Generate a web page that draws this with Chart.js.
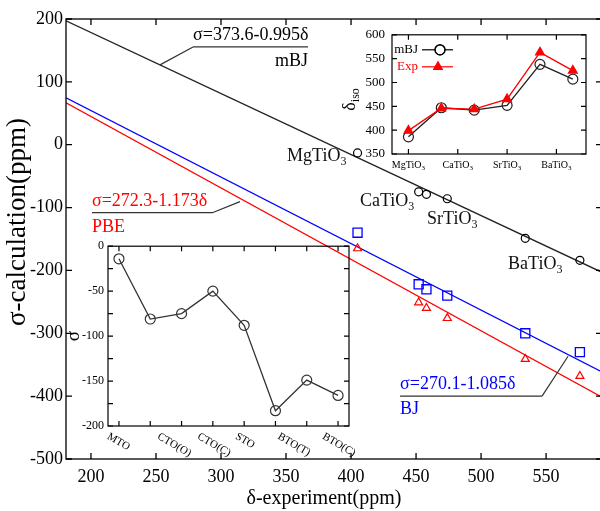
<!DOCTYPE html>
<html>
<head>
<meta charset="utf-8">
<script src="https://cdn.jsdelivr.net/npm/chart.js@4.4.0/dist/chart.umd.min.js"></script>
<style>
  html, body { margin: 0; padding: 0; background: #fff; overflow: hidden; }
  #wrap { position: relative; width: 600px; height: 511px; overflow: hidden; }
  canvas { position: absolute; }
  #main { left: 0; top: 0; }
  #inset1 { left: 340px; top: 20px; }
  #inset2 { left: 60px; top: 235px; }
</style>
</head>
<body>
<div id="wrap">
  <canvas id="main" width="604" height="511"></canvas>
  <canvas id="inset1" width="250" height="160"></canvas>
  <canvas id="inset2" width="295" height="225"></canvas>
</div>
<script>
// main plot: shielding vs experimental shift
const mainX = [405, 452, 458, 474, 534, 576];
const mbjSigma = [-13, -75, -79, -86, -149, -184];
const bjSigma = [-140, -222, -230, -240, -300, -330];
const pbeSigma = [-165, -251, -260, -276, -341, -368];
const fitX = [180.8, 593];
const mbjFit = [197, -203];
const bjFit = [74.6, -361.6];
const pbeFit = [66.7, -401.7];
const mainXTicks = [200, 250, 300, 350, 400, 450, 500, 550];
const mainYTicks = [-500, -400, -300, -200, -100, 0, 100, 200];
const compoundNames = ['MgTiO_3', 'CaTiO_3', 'SrTiO_3', 'BaTiO_3'];

// top-right inset: delta iso
const isoIndex = [0, 1, 2, 3, 4, 5];
const isoMbj = [386, 447, 442, 452, 538, 507];
const isoExp = [399, 446, 444, 465, 563, 525];
const isoLabels = ['MgTiO_3', 'CaTiO_3', 'SrTiO_3', 'BaTiO_3'];
const isoLabelPos = [0, 1.5, 3, 4.5];
const isoYTicks = [350, 400, 450, 500, 550, 600];

// bottom-left inset: sigma differences
const diffIndex = [0, 1, 2, 3, 4, 5, 6, 7];
const diffSigma = [-14, -81, -75, -50, -88, -183, -149, -166];
const diffLabels = ['MTO', 'CTO(O)', 'CTO(C)', 'STO', 'BTO(T)', 'BTO(C)'];
const diffLabelPos = [-0.26, 1.34, 2.62, 3.83, 5.18, 6.61];
const diffYTicks = [-200, -150, -100, -50, 0];
const diffYMinor = [-175, -125, -75, -25];

const SERIF = '"Liberation Serif", "DejaVu Serif", serif';

function parseSub(s) {
    const i = s.indexOf('_');
    return i < 0 ? [[s, false]] : [[s.slice(0, i), false], [s.slice(i + 1), true]];
}

// draws text with a trailing subscript
function drawRich(ctx, s, x, y, size, align) {
    const parts = parseSub(s);
    const subSize = Math.round(size * 0.68);
    const widths = parts.map(([t, sub]) => {
        ctx.font = (sub ? subSize : size) + 'px ' + SERIF;
        return ctx.measureText(t).width;
    });
    const total = widths.reduce((a, b) => a + b, 0);
    let cx = align === 'right' ? x - total : align === 'center' ? x - total / 2 : x;
    ctx.textAlign = 'left';
    ctx.textBaseline = 'middle';
    parts.forEach(([t, sub], i) => {
        ctx.font = (sub ? subSize : size) + 'px ' + SERIF;
        ctx.fillText(t, cx, sub ? y + size * 0.3 : y);
        cx += widths[i];
    });
}

// box round the plot with inward ticks on all four sides
const framePlugin = {
    id: 'frame',
    afterDatasetsDraw(chart, args, opts) {
        const { ctx, chartArea: a, scales: { x, y } } = chart;
        const L = opts.tickLen;
        ctx.save();
        ctx.strokeStyle = '#000';
        ctx.lineWidth = opts.lineWidth;
        ctx.strokeRect(a.left, a.top, a.right - a.left, a.bottom - a.top);
        ctx.beginPath();
        opts.xTicks.forEach(v => {
            const px = x.getPixelForValue(v);
            ctx.moveTo(px, a.bottom); ctx.lineTo(px, a.bottom - L);
            ctx.moveTo(px, a.top); ctx.lineTo(px, a.top + L);
        });
        opts.yTicks.concat(opts.yMinor || []).forEach(v => {
            const py = y.getPixelForValue(v);
            ctx.moveTo(a.left, py); ctx.lineTo(a.left + L, py);
            ctx.moveTo(a.right, py); ctx.lineTo(a.right - L, py);
        });
        ctx.stroke();
        ctx.restore();
    }
};

// fit equations with their leader lines
const eqNotes = [
    { text: 'σ=373.6-0.995δ', name: 'mBJ', color: '#000', x: 278.5, y: 174.6, lineY: 155.6, lineEnd: 366.9, leadFrom: 'start', lead: [253.1, 127.0], nameY: 133.3, nameAlign: 'right' },
    { text: 'σ=272.3-1.173δ', name: 'PBE', color: '#ff0000', x: 200.8, y: -90.5, lineY: -107.9, lineEnd: 293.8, leadFrom: 'end', lead: [314.6, -90.5], nameY: -131.7, nameAlign: 'left' },
    { text: 'σ=270.1-1.085δ', name: 'BJ', color: '#0000ff', x: 437.7, y: -381, lineY: -400, lineEnd: 546.9, leadFrom: 'end', lead: [566.9, -336.5], nameY: -420.6, nameAlign: 'left' }
];
const compoundAt = [[350.8, -19], [406.9, -90.5], [458.5, -119], [520.8, -190.5]];

const mainNotes = {
    id: 'mainNotes',
    afterDraw(chart) {
        const { ctx, scales: { x, y } } = chart;
        ctx.save();
        eqNotes.forEach(n => {
            const x0 = x.getPixelForValue(n.x), x1 = x.getPixelForValue(n.lineEnd);
            const ly = y.getPixelForValue(n.lineY);
            ctx.strokeStyle = '#333';
            ctx.lineWidth = 1.2;
            ctx.beginPath();
            ctx.moveTo(x0, ly); ctx.lineTo(x1, ly);
            ctx.moveTo(n.leadFrom === 'start' ? x0 : x1, ly);
            ctx.lineTo(x.getPixelForValue(n.lead[0]), y.getPixelForValue(n.lead[1]));
            ctx.stroke();
            ctx.fillStyle = n.color;
            drawRich(ctx, n.text, x0, y.getPixelForValue(n.y), 18, 'left');
            drawRich(ctx, n.name, n.nameAlign === 'right' ? x1 : x0, y.getPixelForValue(n.nameY), 18, n.nameAlign);
        });
        ctx.fillStyle = '#111';
        compoundNames.forEach((t, i) => {
            drawRich(ctx, t, x.getPixelForValue(compoundAt[i][0]), y.getPixelForValue(compoundAt[i][1]), 18, 'left');
        });
        // axis titles
        ctx.fillStyle = '#000';
        ctx.translate(18, 222);
        ctx.rotate(-Math.PI / 2);
        drawRich(ctx, 'σ-calculation(ppm)', 0, 0, 27, 'center');
        ctx.setTransform(1, 0, 0, 1, 0, 0);
        drawRich(ctx, 'δ-experiment(ppm)', 324, 499, 20, 'center');
        ctx.restore();
    }
};

const pts = (xs, ys) => xs.map((v, i) => ({ x: v, y: ys[i] }));

new Chart(document.getElementById('main'), {
    type: 'scatter',
    data: {
        datasets: [
            { label: 'mBJ', data: pts(mainX, mbjSigma), pointStyle: 'circle', pointRadius: 4, borderColor: '#000', backgroundColor: 'rgba(0,0,0,0)', pointBorderWidth: 1.2, order: 0 },
            { label: 'BJ', data: pts(mainX, bjSigma), pointStyle: 'rect', pointRadius: 6.4, borderColor: '#0000ff', backgroundColor: 'rgba(0,0,0,0)', pointBorderWidth: 1.3, order: 0 },
            { label: 'PBE', data: pts(mainX, pbeSigma), pointStyle: 'triangle', pointRadius: 4.6, borderColor: '#ff0000', backgroundColor: 'rgba(0,0,0,0)', pointBorderWidth: 1.2, order: 0 },
            { label: 'mBJ fit', data: pts(fitX, mbjFit), showLine: true, pointRadius: 0, borderColor: '#222', borderWidth: 1.3, order: 1 },
            { label: 'BJ fit', data: pts(fitX, bjFit), showLine: true, pointRadius: 0, borderColor: '#0000ff', borderWidth: 1.3, order: 1 },
            { label: 'PBE fit', data: pts(fitX, pbeFit), showLine: true, pointRadius: 0, borderColor: '#ff0000', borderWidth: 1.3, order: 1 }
        ]
    },
    options: {
        responsive: false,
        animation: false,
        layout: { autoPadding: false, padding: { top: 19, right: 2, left: 0, bottom: 0 } },
        plugins: {
            legend: { display: false },
            tooltip: { enabled: false },
            frame: { xTicks: mainXTicks, yTicks: mainYTicks, tickLen: 6, lineWidth: 1.3 }
        },
        scales: {
            x: {
                type: 'linear', min: 180.8, max: 593,
                grid: { display: false, drawTicks: false }, border: { display: false },
                afterBuildTicks: s => { s.ticks = mainXTicks.map(v => ({ value: v })); },
                afterFit: s => { s.height = 52; },
                ticks: { font: { family: SERIF, size: 18 }, color: '#000', padding: 7 }
            },
            y: {
                type: 'linear', min: -500, max: 200,
                grid: { display: false, drawTicks: false }, border: { display: false },
                afterBuildTicks: s => { s.ticks = mainYTicks.map(v => ({ value: v })); },
                afterFit: s => { s.width = 66; },
                ticks: { font: { family: SERIF, size: 18 }, color: '#000', padding: 3 }
            }
        }
    },
    plugins: [framePlugin, mainNotes]
});

// top-right inset
const isoDecor = {
    id: 'isoDecor',
    afterDraw(chart) {
        const { ctx, chartArea: a, scales: { x } } = chart;
        ctx.save();
        ctx.fillStyle = '#000';
        isoLabels.forEach((t, i) => drawRich(ctx, t, x.getPixelForValue(isoLabelPos[i]), a.bottom + 11, 10, 'center'));
        // legend
        const lx = a.left + 26;
        drawRich(ctx, 'mBJ', lx, a.top + 15, 13, 'right');
        ctx.strokeStyle = '#000'; ctx.lineWidth = 1.2;
        ctx.beginPath(); ctx.moveTo(a.left + 30, a.top + 15); ctx.lineTo(a.left + 61, a.top + 15); ctx.stroke();
        ctx.fillStyle = '#fff';
        Chart.helpers.drawPoint(ctx, { pointStyle: 'circle', radius: 5, borderWidth: 1.2 }, a.left + 48, a.top + 15);
        ctx.stroke();
        ctx.fillStyle = '#ff0000';
        drawRich(ctx, 'Exp', lx, a.top + 32, 13, 'right');
        ctx.strokeStyle = '#ff0000';
        ctx.beginPath(); ctx.moveTo(a.left + 30, a.top + 32); ctx.lineTo(a.left + 61, a.top + 32); ctx.stroke();
        Chart.helpers.drawPoint(ctx, { pointStyle: 'triangle', radius: 5, borderWidth: 1 }, a.left + 46, a.top + 32);
        // y title
        ctx.fillStyle = '#000';
        ctx.translate(10, (a.top + a.bottom) / 2 + 5);
        ctx.rotate(-Math.PI / 2);
        drawRich(ctx, 'δ_iso', 0, 0, 18, 'center');
        ctx.restore();
    }
};

new Chart(document.getElementById('inset1'), {
    type: 'line',
    data: {
        datasets: [
            { label: 'Exp', data: pts(isoIndex, isoExp), borderColor: '#ff0000', backgroundColor: '#ff0000', borderWidth: 1.3, pointStyle: 'triangle', pointRadius: 5, order: 0 },
            { label: 'mBJ', data: pts(isoIndex, isoMbj), borderColor: '#222', backgroundColor: 'rgba(0,0,0,0)', borderWidth: 1.3, pointStyle: 'circle', pointRadius: 5, pointBorderWidth: 1.2, order: 1 }
        ]
    },
    options: {
        responsive: false,
        animation: false,
        layout: { autoPadding: false, padding: { top: 8, right: 4, left: 0, bottom: 0 } },
        plugins: {
            legend: { display: false },
            tooltip: { enabled: false },
            frame: { xTicks: isoLabelPos, yTicks: isoYTicks, tickLen: 5, lineWidth: 1.2 }
        },
        scales: {
            x: {
                type: 'linear', min: -0.5, max: 5.4,
                grid: { display: false, drawTicks: false }, border: { display: false },
                ticks: { display: false },
                afterFit: s => { s.height = 26; }
            },
            y: {
                type: 'linear', min: 350, max: 600,
                grid: { display: false, drawTicks: false }, border: { display: false },
                afterBuildTicks: s => { s.ticks = isoYTicks.map(v => ({ value: v })); },
                afterFit: s => { s.width = 52; },
                ticks: { font: { family: SERIF, size: 13 }, color: '#000', padding: 7 }
            }
        }
    },
    plugins: [framePlugin, isoDecor]
});

// bottom-left inset
const diffDecor = {
    id: 'diffDecor',
    afterDraw(chart) {
        const { ctx, chartArea: a, scales: { x } } = chart;
        ctx.save();
        ctx.fillStyle = '#000';
        ctx.font = '11px ' + SERIF;
        ctx.textAlign = 'left';
        ctx.textBaseline = 'top';
        diffLabels.forEach((t, i) => {
            ctx.save();
            ctx.translate(x.getPixelForValue(diffLabelPos[i]), a.bottom + 5);
            ctx.rotate(Math.PI / 6);
            ctx.fillText(t, 0, 0);
            ctx.restore();
        });
        ctx.translate(14, (a.top + a.bottom) / 2);
        ctx.rotate(-Math.PI / 2);
        drawRich(ctx, 'σ', 0, 0, 19, 'center');
        ctx.restore();
    }
};

new Chart(document.getElementById('inset2'), {
    type: 'line',
    data: {
        datasets: [
            { label: 'diff', data: pts(diffIndex, diffSigma), borderColor: '#333', backgroundColor: 'rgba(0,0,0,0)', borderWidth: 1.3, pointStyle: 'circle', pointRadius: 5, pointBorderWidth: 1.2 }
        ]
    },
    options: {
        responsive: false,
        animation: false,
        layout: { autoPadding: false, padding: { top: 10, right: 6, left: 0, bottom: 0 } },
        plugins: {
            legend: { display: false },
            tooltip: { enabled: false },
            frame: { xTicks: diffIndex, yTicks: diffYTicks, yMinor: diffYMinor, tickLen: 5, lineWidth: 1.2 }
        },
        scales: {
            x: {
                type: 'linear', min: -0.35, max: 7.35,
                grid: { display: false, drawTicks: false }, border: { display: false },
                ticks: { display: false },
                afterFit: s => { s.height = 34; }
            },
            y: {
                type: 'linear', min: -200, max: 0,
                grid: { display: false, drawTicks: false }, border: { display: false },
                afterBuildTicks: s => { s.ticks = diffYTicks.map(v => ({ value: v })); },
                afterFit: s => { s.width = 48; },
                ticks: { font: { family: SERIF, size: 12 }, color: '#000', padding: 4 }
            }
        }
    },
    plugins: [framePlugin, diffDecor]
});
</script>
</body>
</html>
